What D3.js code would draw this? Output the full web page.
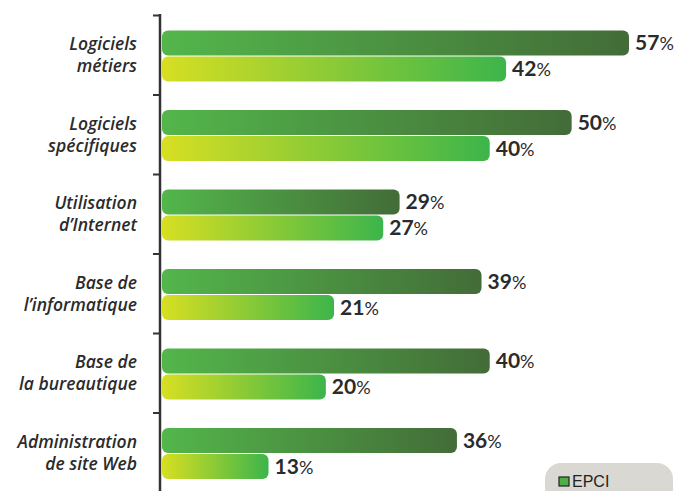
<!DOCTYPE html>
<html>
<head>
<meta charset="utf-8">
<script src="https://cdn.jsdelivr.net/npm/d3@7"></script>
<style>
  body { margin: 0; background: white; }
  svg { display: block; }
  .cat { font-family: "Open Sans", sans-serif; font-style: italic; font-weight: 600; font-size: 17.5px; fill: #2b2b2b; }
  .val { font-family: "Lato", sans-serif; font-weight: 700; font-size: 21px; fill: #2b2b2b; }
  .pct { font-weight: 400; font-size: 18px; }
  .leg { font-family: "Liberation Sans Narrow", "Liberation Sans", sans-serif; font-size: 16px; fill: #222; }
</style>
</head>
<body>
<svg width="679" height="491"></svg>
<script>
var categories = [
  ["Logiciels", "métiers"],
  ["Logiciels", "spécifiques"],
  ["Utilisation", "d’Internet"],
  ["Base de", "l’informatique"],
  ["Base de", "la bureautique"],
  ["Administration", "de site Web"]
]
var epci = [57, 50, 29, 39, 40, 36]
var other = [42, 40, 27, 21, 20, 13]
var legendLabels = ["EPCI"]

var svg = d3.select("svg")

var defs = svg.append("defs")
var gDark = defs.append("linearGradient").attr("id", "gDark")
gDark.append("stop").attr("offset", "0%").attr("stop-color", "#53b64b")
gDark.append("stop").attr("offset", "100%").attr("stop-color", "#436c38")
var gLight = defs.append("linearGradient").attr("id", "gLight")
gLight.append("stop").attr("offset", "0%").attr("stop-color", "#d7df22")
gLight.append("stop").attr("offset", "100%").attr("stop-color", "#3cb54b")

var x = d3.scaleLinear().domain([0, 57]).range([162, 629])

var y = d3.scaleBand()
  .domain(d3.range(categories.length))
  .range([15, 492])

var ySub = d3.scaleBand().domain(["epci", "other"]).range([15, 67])

var rows = svg.selectAll("g.row")
  .data(categories.map((c, i) => ({ c, i, a: epci[i], b: other[i] })))
  .join("g")
  .attr("class", "row")
  .attr("transform", d => `translate(0,${y(d.i)})`)

function bars(key, grad) {
  rows.append("rect")
    .attr("x", x(0))
    .attr("y", ySub(key) + 0.5)
    .attr("width", d => x(d[key == "epci" ? "a" : "b"]) - x(0))
    .attr("height", ySub.bandwidth() - 1)
    .attr("rx", 6)
    .attr("fill", `url(#${grad})`)

  let t = rows.append("text")
    .attr("class", "val")
    .attr("x", d => x(d[key == "epci" ? "a" : "b"]) + 6)
    .attr("y", ySub(key) + ySub.bandwidth() / 2 + 7)
  t.append("tspan").text(d => d[key == "epci" ? "a" : "b"])
  t.append("tspan").attr("class", "pct").text("%")
}
bars("epci", "gDark")
bars("other", "gLight")

var labels = rows.append("text")
  .attr("class", "cat")
  .attr("text-anchor", "end")
labels.selectAll("tspan")
  .data(d => d.c)
  .join("tspan")
  .attr("x", 137)
  .attr("y", (d, j) => 50 + j * 22 - 15)
  .text(d => d)

// axis
svg.append("line")
  .attr("x1", 160).attr("x2", 160)
  .attr("y1", 14).attr("y2", 491)
  .attr("stroke", "#333").attr("stroke-width", 2.5)
svg.selectAll("line.tick")
  .data(d3.range(categories.length))
  .join("line")
  .attr("class", "tick")
  .attr("x1", 153).attr("x2", 160)
  .attr("y1", d => y(d) + 0.5).attr("y2", d => y(d) + 0.5)
  .attr("stroke", "#333").attr("stroke-width", 2)

// legend
var legend = svg.append("g").attr("transform", "translate(545,463)")
legend.append("rect")
  .attr("width", 128).attr("height", 50)
  .attr("rx", 16)
  .attr("fill", "#dad8d2")
legend.selectAll("g.item")
  .data(legendLabels)
  .join("g")
  .attr("class", "item")
  .each(function(d) {
    let g = d3.select(this)
    g.append("rect")
      .attr("x", 14).attr("y", 14)
      .attr("width", 10).attr("height", 9)
      .attr("fill", "#4fae45").attr("stroke", "#222").attr("stroke-width", 1.2)
    g.append("text").attr("class", "leg")
      .attr("x", 27).attr("y", 23.5)
      .text(d)
  })
</script>
</body>
</html>
